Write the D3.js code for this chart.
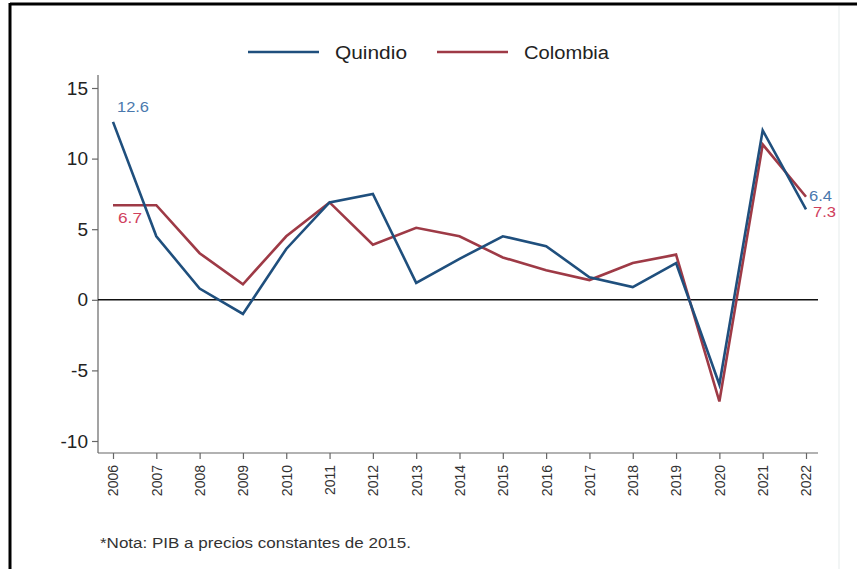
<!DOCTYPE html>
<html lang="es">
  <head>
    <meta charset="UTF-8" />
    <script src="https://d3js.org/d3.v7.min.js"></script>
    <title>PIB Quindio vs Colombia</title>
    <style>
      body { margin: 0; background: #fff; font-family: Arial, "Liberation Sans", sans-serif; }
      svg { display: block; }
    </style>
  </head>
  <body>
    <svg width="857" height="569"></svg>
    <script>
      // datos
      const years = [2006, 2007, 2008, 2009, 2010, 2011, 2012, 2013, 2014, 2015, 2016, 2017, 2018, 2019, 2020, 2021, 2022];
      const quindio = [12.6, 4.5, 0.8, -1.0, 3.6, 6.9, 7.5, 1.2, 2.9, 4.5, 3.8, 1.6, 0.9, 2.6, -6.0, 12.0, 6.4];
      const colombia = [6.7, 6.7, 3.3, 1.1, 4.5, 6.9, 3.9, 5.1, 4.5, 3.0, 2.1, 1.4, 2.6, 3.2, -7.2, 11.0, 7.3];
      const yTicks = [-10, -5, 0, 5, 10, 15];
      const seriesNames = ["Quindio", "Colombia"];

      const blue = "#1f4f7d";
      const red = "#9e3a46";
      const font = "Arial, 'Liberation Sans', sans-serif";

      const svg = d3.select("svg");

      // marco
      svg.append("line").attr("x1", 10).attr("x2", 857).attr("y1", 4).attr("y2", 4)
        .attr("stroke", "#000").attr("stroke-width", 3);
      svg.append("line").attr("x1", 10).attr("x2", 10).attr("y1", 3).attr("y2", 569)
        .attr("stroke", "#000").attr("stroke-width", 3);
      svg.append("line").attr("x1", 839).attr("x2", 839).attr("y1", 6).attr("y2", 569)
        .attr("stroke", "#eef2f2").attr("stroke-width", 1.5);

      // escalas
      const x = d3.scalePoint().domain(years).range([113, 806]);
      const y = d3.scaleLinear().domain([-10, 15]).range([441, 88]);

      // eje y
      const yAxis = svg.append("g")
        .attr("transform", "translate(98,0)")
        .call(d3.axisLeft(y).tickValues(yTicks).tickSize(6).tickPadding(4).tickFormat(d => String(d)));
      yAxis.select(".domain").attr("d", `M0,75V453`).attr("stroke", "#666").attr("stroke-width", 1.2);
      yAxis.selectAll(".tick line").attr("stroke", "#666").attr("stroke-width", 1.2);
      yAxis.selectAll("text").attr("font-size", 19).attr("font-family", font).attr("fill", "#222");

      // eje x
      const xAxis = svg.append("g")
        .attr("transform", "translate(0,453)")
        .call(d3.axisBottom(x).tickSize(6).tickFormat(d3.format("d")));
      xAxis.select(".domain").attr("d", "M98,0H818").attr("stroke", "#666").attr("stroke-width", 1.2);
      xAxis.selectAll(".tick line").attr("stroke", "#666").attr("stroke-width", 1.2);
      xAxis.selectAll("text")
        .attr("font-size", 14)
        .attr("font-family", font)
        .attr("fill", "#333")
        .attr("transform", "rotate(-90)")
        .attr("text-anchor", "end")
        .attr("x", -12)
        .attr("y", 0)
        .attr("dy", "0.35em");

      // linea cero
      svg.append("line")
        .attr("x1", 98).attr("x2", 818)
        .attr("y1", y(0)).attr("y2", y(0))
        .attr("stroke", "#111").attr("stroke-width", 1.5);

      // series
      const line = d3.line().x((d, i) => x(years[i])).y(d => y(d));
      [[colombia, red], [quindio, blue]].forEach(([vals, col]) => {
        svg.append("path")
          .datum(vals)
          .attr("fill", "none")
          .attr("stroke", col)
          .attr("stroke-width", 2.6)
          .attr("d", line);
      });

      // etiquetas de valores
      const lblBlue = "#4a78ad";
      const lblRed = "#d0405c";
      const last = years.length - 1;
      const lbl = (xx, yy, col, v, w, fs) => svg.append("text").attr("x", xx).attr("y", yy)
        .attr("font-size", fs).attr("font-family", font).attr("fill", col)
        .attr("textLength", w).attr("lengthAdjust", "spacingAndGlyphs")
        .text(v.toFixed(1));
      lbl(x(years[0]) + 4, y(quindio[0]) - 10, lblBlue, quindio[0], 32, 15);
      lbl(x(years[0]) + 5, y(colombia[0]) + 18, lblRed, colombia[0], 24, 15);
      lbl(x(years[last]) + 3, y(quindio[last]) - 8, lblBlue, quindio[last], 23, 14);
      lbl(x(years[last]) + 7, y(colombia[last]) + 20, lblRed, colombia[last], 23, 14);

      // leyenda
      const legend = [
        { name: seriesNames[0], col: blue, x0: 248, w: 72 },
        { name: seriesNames[1], col: red, x0: 437, w: 85 }
      ];
      legend.forEach(l => {
        svg.append("line").attr("x1", l.x0).attr("x2", l.x0 + 71)
          .attr("y1", 52).attr("y2", 52).attr("stroke", l.col).attr("stroke-width", 2.6);
        svg.append("text").attr("x", l.x0 + 87).attr("y", 59)
          .attr("font-size", 18).attr("font-family", font).attr("fill", "#222")
          .attr("textLength", l.w).attr("lengthAdjust", "spacingAndGlyphs")
          .text(l.name);
      });

      // nota
      svg.append("text").attr("x", 100).attr("y", 548)
        .attr("font-size", 14).attr("font-family", font).attr("fill", "#333")
        .attr("textLength", 311).attr("lengthAdjust", "spacingAndGlyphs")
        .text("*Nota: PIB a precios constantes de 2015.");
    </script>
  </body>
</html>
